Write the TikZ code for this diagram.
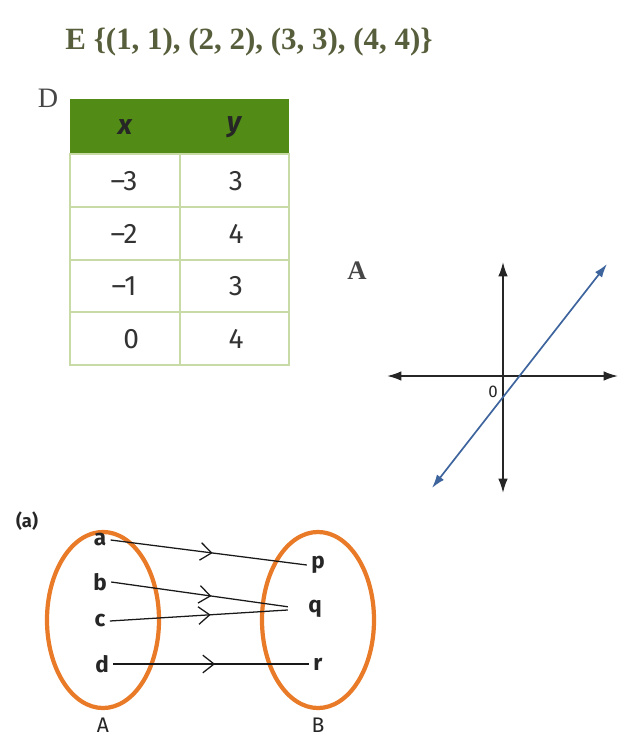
\documentclass[tikz,border=0pt]{standalone}
\usepackage{fontspec}
\setmainfont{Liberation Serif}
\setsansfont{Fira Sans}
\usetikzlibrary{arrows.meta,positioning,shapes.geometric,decorations.markings}
\definecolor{titleolive}{RGB}{86,94,60}
\definecolor{labelgray}{RGB}{70,70,70}
\definecolor{headgreen}{RGB}{82,140,22}
\definecolor{gridgreen}{RGB}{200,218,165}
\definecolor{lineblue}{RGB}{62,100,158}
\definecolor{setorange}{RGB}{232,122,40}

\begin{document}
\begin{tikzpicture}[x=0.025cm, y=-0.025cm,
    titletext/.style={font=\bfseries\fontsize{22}{26}\selectfont, text=titleolive},
    partlabel/.style={font=\fontsize{20}{24}\selectfont, text=labelgray},
    headcell/.style={font=\sffamily\bfseries\itshape\fontsize{20}{24}\selectfont, text=black!85},
    cellnum/.style={font=\sffamily\fontsize{20}{24}\selectfont, text=black!80},
    gridline/.style={draw=gridgreen, line width=1pt},
    axisline/.style={draw=black!85, line width=1.2pt, {Latex[length=3.6mm,width=2.4mm]}-{Latex[length=3.6mm,width=2.4mm]}},
    graphline/.style={draw=lineblue, line width=1.2pt, {Latex[length=3.4mm,width=2.2mm]}-{Latex[length=3.4mm,width=2.2mm]}},
    setoval/.style={ellipse, draw=setorange, line width=3pt, minimum width=2.8cm, minimum height=4.4cm, inner sep=0pt},
    setletter/.style={font=\sffamily\bfseries\fontsize{16}{19}\selectfont, text=black!85, inner sep=3pt},
    setname/.style={font=\sffamily\fontsize{15}{18}\selectfont, text=black!85, inner sep=1pt},
    maparrow/.style={draw=black!90, line width=0.9pt, postaction={decorate},
      decoration={markings, mark=at position 0.52 with {\arrow{Straight Barb[length=2.8mm,width=4.4mm]}}}}
]
\useasboundingbox (0,0) rectangle (620,738);

\node[titletext] (title) at (249,42) {E \{(1, 1), (2, 2), (3, 3), (4, 4)\}};

\node[partlabel] (labD) at (48,98) {D};
\fill[headgreen] (70,99) rectangle (289,154);
\node[headcell] (hx) at (125,127) {x};
\node[headcell] (hy) at (234,127) {y};
\draw[gridline] (70,154) rectangle (289,365);
\draw[gridline] (180,154) -- (180,365);
\foreach \yy in {207,260,312}
  \draw[gridline] (70,\yy) -- (289,\yy);
\foreach \r/\yy/\xv/\yv in {1/181/{\textendash3}/3, 2/234/{\textendash2}/4, 3/286/{\textendash1}/3, 4/339/{\phantom{\textendash}0}/4}
{
  \node[cellnum] (x\r) at (124,\yy) {\xv};
  \node[cellnum] (y\r) at (236,\yy) {\yv};
}

\node[partlabel, font=\bfseries\fontsize{19}{22}\selectfont] (labA) at (357,271) {A};
\coordinate (O) at (503,376);
\coordinate (xl) at (387,376);
\coordinate (xr) at (618,376);
\coordinate (yt) at (503,262);
\coordinate (yb) at (503,493);
\coordinate (lb) at (432,488);
\coordinate (lt) at (607,264);
\draw[axisline] (xl) -- (xr);
\draw[axisline] (yt) -- (yb);
\draw[graphline] (lb) -- (lt);
\node[font=\sffamily\fontsize{12}{14}\selectfont, text=black!85] (zero) at (493,392) {0};

\node[font=\sffamily\bfseries\fontsize{13}{16}\selectfont, text=black!85] (parta) at (27,521) {(a)};
\node[setoval] (setA) at (103,620) {};
\node[setoval] (setB) at (318,620) {};
\node[setname, below=1.6mm of setA] (nameA) {A};
\node[setname, below=1.6mm of setB] (nameB) {B};

\node[setletter] (a) at (100,540) {a};
\node[setletter] (b) at (100,582) {b};
\node[setletter] (c) at (100,621) {c};
\node[setletter] (d) at (102,664) {d};
\node[setletter] (p) at (318,565) {p};
\node[setletter] (q) at (315,609) {q};
\node[setletter] (r) at (318,664) {r};

\foreach \s/\t/\sh in {a/p/0mm, b/q/4mm, c/q/4mm, d/r/0mm}
  \draw[maparrow, shorten >=\sh] (\s.east) -- (\t.west);
\end{tikzpicture}
\end{document}
